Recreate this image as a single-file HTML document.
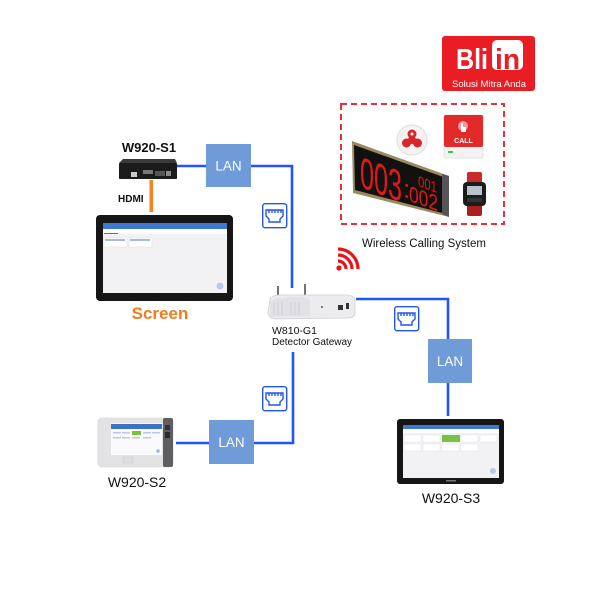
<!DOCTYPE html>
<html><head><meta charset="utf-8"><style>
html,body{margin:0;padding:0;background:#fff;}
svg{display:block;}
text{font-family:"Liberation Sans",Arial,sans-serif;}
</style></head><body>
<svg width="600" height="600" viewBox="0 0 600 600" xmlns="http://www.w3.org/2000/svg">
<rect width="600" height="600" fill="#fff"/>

<!-- Logo -->
<rect x="442" y="36" width="93" height="55" rx="3" fill="#ea1c24"/>
<text x="456" y="69" font-size="29" font-weight="bold" fill="#fff" textLength="32" lengthAdjust="spacingAndGlyphs">Bli</text>
<rect x="492" y="40" width="31" height="30" rx="5" fill="#fff"/>
<text x="495" y="69" font-size="29" font-weight="bold" fill="#ea1c24" textLength="25" lengthAdjust="spacingAndGlyphs">in</text>
<text x="452" y="87" font-size="9.5" fill="#fff" textLength="74" lengthAdjust="spacingAndGlyphs">Solusi Mitra Anda</text>

<!-- Dashed box -->
<rect x="341" y="104" width="163" height="120" fill="none" stroke="#e8303a" stroke-width="2" stroke-dasharray="6,4"/>

<!-- Round button -->
<circle cx="412" cy="140" r="15" fill="#f6f2f2" stroke="#ddd" stroke-width="1"/>
<circle cx="412" cy="134" r="4.5" fill="#d8262c"/>
<circle cx="406.5" cy="143" r="4.5" fill="#d8262c"/>
<circle cx="417.5" cy="143" r="4.5" fill="#d8262c"/>
<circle cx="412" cy="140" r="4" fill="#d8262c"/>
<circle cx="412" cy="134" r="1.5" fill="#fff"/>

<!-- CALL box -->
<rect x="444" y="115" width="39" height="43" rx="2" fill="#f3f3f3" stroke="#ddd" stroke-width="0.8"/>
<rect x="444" y="115" width="39" height="32" rx="2" fill="#e32a2a"/>
<circle cx="463" cy="126" r="5" fill="#f39a9a"/>
<path d="M461,123 v9 h5 v-5 h-3 v-4 z" fill="#fff"/>
<text x="463.5" y="143" font-size="7" font-weight="bold" fill="#fff" text-anchor="middle">CALL</text>
<rect x="448" y="151" width="5" height="2" fill="#3cc84a"/>

<!-- LED display -->
<polygon points="352,141 449,176 449,217 353,193" fill="#9b8a5e"/>
<polygon points="354,145 446,178 446,214 355,190" fill="#111"/>
<polygon points="442,174 449,176 449,217 442,214" fill="#555"/>
<g transform="translate(352,141) skewY(20)">
<text x="8" y="43" font-size="44" fill="#e01818" textLength="42" lengthAdjust="spacingAndGlyphs">003</text>
<text x="51" y="37" font-size="26" fill="#e01818">:</text>
<text x="66" y="21" font-size="15" fill="#e01818" textLength="19" lengthAdjust="spacingAndGlyphs">001</text>
<text x="57" y="39" font-size="22" fill="#e01818" textLength="29" lengthAdjust="spacingAndGlyphs">002</text>
</g>

<!-- Watch -->
<rect x="467" y="172" width="15" height="12" rx="2" fill="#c92a2a"/>
<rect x="467" y="204" width="15" height="12" rx="2" fill="#a82020"/>
<rect x="463" y="182" width="23" height="24" rx="4" fill="#1c1c1c"/>
<rect x="467" y="186" width="15" height="9" fill="#b9c3cc"/>
<rect x="467" y="198" width="15" height="4" fill="#333"/>

<text x="362" y="247" font-size="11.5" fill="#111">Wireless Calling System</text>

<!-- WiFi -->
<g fill="none" stroke="#e8141c" stroke-width="3.2" stroke-linecap="butt">
<path d="M338,261 A8,8 0 0 1 346,269"/>
<path d="M338,255 A14,14 0 0 1 352,269"/>
<path d="M338,249 A20,20 0 0 1 358,269"/>
</g>
<circle cx="339" cy="268" r="2.6" fill="#e8141c"/>

<!-- Blue connectors -->
<g stroke="#1f55ff" stroke-width="2.6" fill="none">
<path d="M177,166 H206"/>
<path d="M251,166 H292 V288"/>
<path d="M356,299 H448 V339"/>
<path d="M448,383 V416"/>
<path d="M293,352 V443 H254"/>
<path d="M209,443 H176"/>
</g>

<!-- LAN boxes -->
<g font-size="13.5" fill="#fff" text-anchor="middle">
<rect x="206" y="144" width="45" height="43" fill="#6f9bd9"/>
<text x="228.5" y="170.5">LAN</text>
<rect x="428" y="339" width="44" height="44" fill="#6f9bd9"/>
<text x="450" y="366">LAN</text>
<rect x="209" y="420" width="45" height="44" fill="#6f9bd9"/>
<text x="231.5" y="447">LAN</text>
</g>

<!-- RJ45 icons -->
<g fill="none" stroke="#2255ee" stroke-width="1.4">
<g transform="translate(262,203)">
<rect x="0.7" y="0.7" width="24" height="24" rx="2.5" fill="#fff"/>
<path d="M4,7 h17 v6 l-3,3 v3 h-11 v-3 l-3,-3 z"/>
<path d="M7,7 v3 M10,7 v3 M13,7 v3 M16,7 v3 M19,7 v3"/>
</g>
<g transform="translate(394,306)">
<rect x="0.7" y="0.7" width="24" height="24" rx="2.5" fill="#fff"/>
<path d="M4,7 h17 v6 l-3,3 v3 h-11 v-3 l-3,-3 z"/>
<path d="M7,7 v3 M10,7 v3 M13,7 v3 M16,7 v3 M19,7 v3"/>
</g>
<g transform="translate(262,386)">
<rect x="0.7" y="0.7" width="24" height="24" rx="2.5" fill="#fff"/>
<path d="M4,7 h17 v6 l-3,3 v3 h-11 v-3 l-3,-3 z"/>
<path d="M7,7 v3 M10,7 v3 M13,7 v3 M16,7 v3 M19,7 v3"/>
</g>
</g>

<!-- W920-S1 box -->
<text x="149" y="152" font-size="13" font-weight="bold" fill="#111" text-anchor="middle">W920-S1</text>
<polygon points="123,159 175,159 177,163 119,163" fill="#3a3a3a"/>
<rect x="119" y="163" width="58" height="16" rx="1" fill="#1b1b1b"/>
<rect x="131" y="172" width="6" height="5" fill="#c9c9c9"/>
<rect x="143" y="170" width="10" height="4" fill="#777"/>
<rect x="155" y="171" width="10" height="5" fill="#555"/>
<rect x="166" y="171" width="5" height="5" fill="#888"/>
<rect x="149.5" y="180" width="3.5" height="32" fill="#f5821f"/>
<text x="118" y="202" font-size="10" font-weight="bold" fill="#111">HDMI</text>

<!-- Screen S1 -->
<rect x="96" y="215" width="137" height="86" rx="4" fill="#161616"/>
<rect x="103" y="223" width="124" height="70" fill="#f2f2f4"/>
<rect x="103" y="223" width="124" height="6" fill="#3f78d0"/>
<rect x="103" y="229" width="124" height="5" fill="#fff"/>
<rect x="104" y="233" width="14" height="1" fill="#3f78d0"/>
<rect x="104" y="238" width="23" height="9" fill="#fff" stroke="#d9dde8" stroke-width="0.5"/>
<rect x="129" y="238" width="23" height="9" fill="#fff" stroke="#d9dde8" stroke-width="0.5"/>
<rect x="105" y="239" width="20" height="2" fill="#a9b9dd"/>
<rect x="130" y="239" width="20" height="2" fill="#a9b9dd"/>
<circle cx="220" cy="286" r="3.5" fill="#b8c8ea"/>
<text x="160" y="319" font-size="17" font-weight="bold" fill="#f07d1a" text-anchor="middle">Screen</text>

<!-- Gateway -->
<line x1="278" y1="286" x2="278" y2="298" stroke="#444" stroke-width="1.5"/>
<line x1="305" y1="284" x2="305" y2="296" stroke="#444" stroke-width="1.5"/>
<path d="M270,300 Q271,295 280,295 L348,295 Q355,296 355,302 L355,312 Q355,318 348,318 L275,319 Q268,318 268,312 Z" fill="#ececee" stroke="#cfcfd3" stroke-width="0.8"/>
<path d="M270,302 Q276,296 284,299 Q290,295 298,298 Q304,295 310,300 L310,316 L270,317 Z" fill="#e2e2e6"/>
<g stroke="#c9c9cf" stroke-width="0.8">
<line x1="274" y1="303" x2="274" y2="314"/><line x1="278" y1="302" x2="278" y2="315"/><line x1="282" y1="302" x2="282" y2="315"/>
<line x1="291" y1="302" x2="291" y2="315"/><line x1="295" y1="302" x2="295" y2="315"/><line x1="299" y1="302" x2="299" y2="315"/>
</g>
<rect x="338" y="305" width="5" height="5" fill="#333"/>
<rect x="346" y="303" width="3" height="6" fill="#333"/>
<circle cx="322" cy="307" r="1" fill="#555"/>
<text x="272" y="334" font-size="10.5" fill="#111">W810-G1</text>
<text x="272" y="345" font-size="10" fill="#111">Detector Gateway</text>

<!-- W920-S2 tablet -->
<rect x="98" y="418" width="75" height="49" rx="4" fill="#e3e3e5" stroke="#cfcfd2" stroke-width="0.6"/>
<rect x="163" y="418" width="10" height="49" rx="2" fill="#5e5e62"/>
<rect x="165" y="425" width="5" height="5" fill="#333"/>
<rect x="165" y="432" width="5" height="6" fill="#2a2a2a"/>
<circle cx="167" cy="422" r="1" fill="#d33"/>
<rect x="111" y="423" width="51" height="32" fill="#fafafc"/>
<rect x="111" y="424" width="51" height="5" fill="#3e72c8"/>
<rect x="132" y="431" width="9" height="4" fill="#7ac142"/>
<g fill="#b9c8e6">
<rect x="113" y="432" width="8" height="1.5"/><rect x="122" y="432" width="8" height="1.5"/><rect x="143" y="432" width="8" height="1.5"/><rect x="152" y="432" width="8" height="1.5"/>
<rect x="113" y="437" width="8" height="1.5"/><rect x="122" y="437" width="8" height="1.5"/><rect x="132" y="437" width="8" height="1.5"/><rect x="143" y="437" width="8" height="1.5"/>
</g>
<circle cx="158" cy="451" r="1.8" fill="#9bb4e0"/>
<rect x="123" y="457" width="10" height="6" fill="#dcdcde" stroke="#c8c8cc" stroke-width="0.5"/>
<text x="137" y="487" font-size="14" fill="#111" text-anchor="middle">W920-S2</text>

<!-- W920-S3 -->
<rect x="397" y="419" width="107" height="65" rx="3" fill="#161616"/>
<rect x="403" y="425" width="96" height="53" fill="#f2f2f4"/>
<rect x="403" y="425" width="96" height="4" fill="#3f78d0"/>
<rect x="403" y="429" width="96" height="4" fill="#fff"/>
<g fill="#fff" stroke="#d9dde8" stroke-width="0.4">
<rect x="404" y="435" width="17" height="7"/><rect x="423" y="435" width="17" height="7"/><rect x="461" y="435" width="17" height="7"/><rect x="480" y="435" width="17" height="7"/>
<rect x="404" y="444" width="17" height="7"/><rect x="423" y="444" width="17" height="7"/><rect x="442" y="444" width="17" height="7"/><rect x="461" y="444" width="17" height="7"/>
</g>
<rect x="442" y="435" width="18" height="7" fill="#7ac142"/>
<circle cx="493" cy="471" r="3" fill="#b8c8ea"/>
<rect x="446" y="480" width="10" height="1.5" fill="#777"/>
<text x="451" y="503" font-size="14" fill="#111" text-anchor="middle">W920-S3</text>
</svg>
</body></html>
